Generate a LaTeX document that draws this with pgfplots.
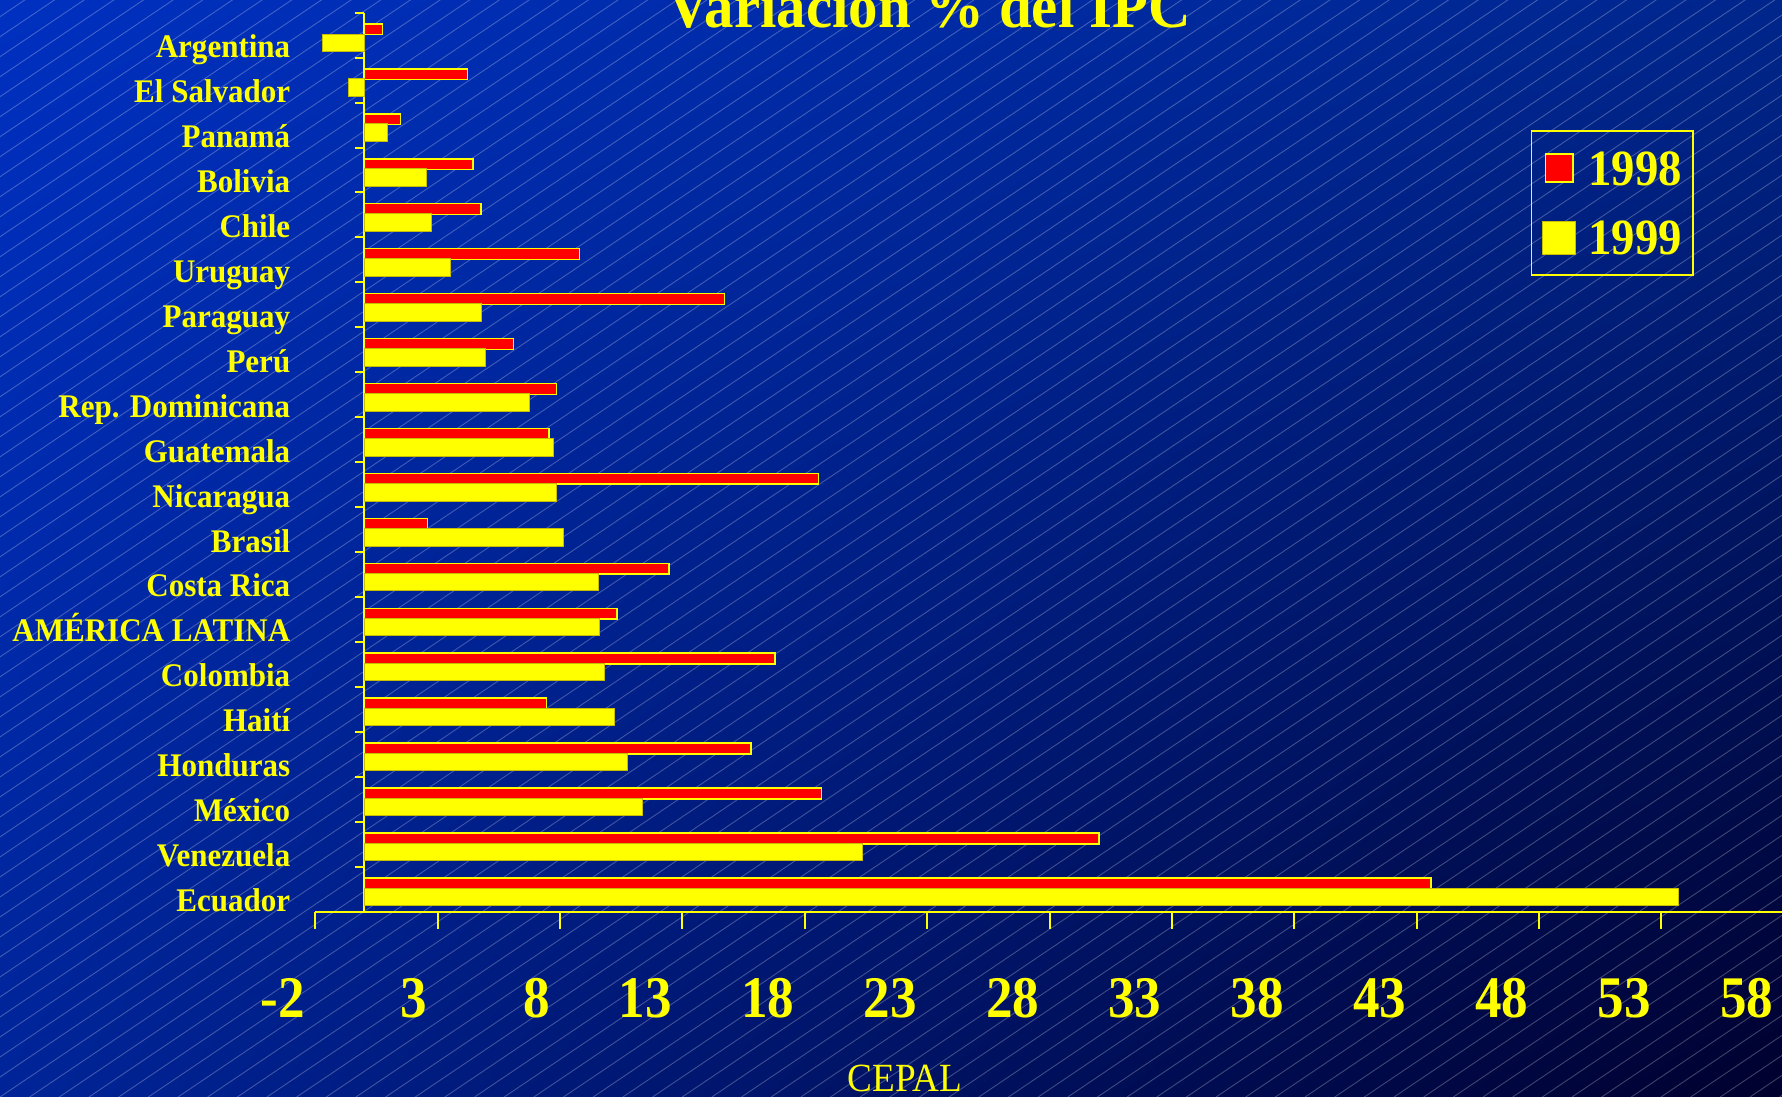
\documentclass[border=0pt]{standalone}
\usepackage{pgfplots}
\pgfplotsset{compat=1.18}
\usetikzlibrary{shadings}
\usepackage{fontspec}
\setmainfont{Liberation Serif}
\definecolor{yel}{RGB}{255,255,0}
\definecolor{rd}{RGB}{255,0,0}
\definecolor{bgTL}{RGB}{0,48,192}
\definecolor{bgTR}{RGB}{0,38,140}
\definecolor{bgBL}{RGB}{0,36,152}
\definecolor{bgBR}{RGB}{0,0,46}
\definecolor{ybord}{RGB}{200,190,0}
\newcommand{\yl}[1]{\scalebox{0.94}[1]{#1}}
\begin{document}
\begin{tikzpicture}
\shade[upper left=bgTL, upper right=bgTR, lower left=bgBL, lower right=bgBR] (0,0) rectangle (891pt,548.5pt);
\begin{scope}
\clip (0,0) rectangle (891pt,548.5pt);
\foreach \i in {-56,...,61} \draw[white, opacity=0.25, line width=0.45pt] (\i*14.83pt,0) -- ++(34:1000pt);
\end{scope}
\begin{axis}[
  at={(157.7pt,92.65pt)}, anchor=south west,
  scale only axis, width=734.1pt, height=449.5pt,
  xmin=-2, xmax=58, ymin=-0.5, ymax=19.5,
  axis x line*=bottom, axis y line*=middle,
  axis line style={yel, line width=1pt},
  xtick={-2,3,...,58},
  ytick={0,...,19},
  minor ytick={-0.5,0.5,...,19.5},
  yticklabels={\yl{Ecuador},\yl{Venezuela},\yl{México},\yl{Honduras},\yl{Haití},\yl{Colombia},\yl{AMÉRICA LATINA},\yl{Costa Rica},\yl{Brasil},\yl{Nicaragua},\yl{Guatemala},\yl{Rep. Dominicana},\yl{Perú},\yl{Paraguay},\yl{Uruguay},\yl{Chile},\yl{Bolivia},\yl{Panamá},\yl{El Salvador},\yl{Argentina}},
  tick align=center,
  major tick length=8.5pt, minor tick length=4.65pt,
  major x tick style={yel, line width=1pt, yshift=-4.25pt},
  major y tick style={draw=none},
  minor y tick style={yel, line width=1pt, xshift=-2.325pt},
  xticklabel={\scalebox{0.9}[1]{\pgfmathprintnumber[assume math mode=true]{\tick}}},
  xticklabel style={anchor=base east, inner sep=0pt, text=yel, font=\fontsize{29.5}{29.5}\selectfont\bfseries, xshift=-5pt, yshift=-48.8pt},
  yticklabel style={anchor=base east, inner sep=0pt, text=yel, font=\fontsize{16.5}{16.5}\selectfont\bfseries, xshift=-32.6pt, yshift=-11.2pt},
  title={\scalebox{0.95}[1]{Variación \% del IPC}},
  title style={at={(axis description cs:0.418,0.9789)}, anchor=base, inner sep=0pt, yshift=-4pt, text=yel, font=\fontsize{31}{31}\selectfont\bfseries},
  xlabel={\scalebox{0.93}[1]{CEPAL}},
  xlabel style={at={(axis description cs:0.4016,-0.2000)}, anchor=base, inner sep=0pt, text depth=0pt, text=yel, font=\fontsize{20}{20}\selectfont},
  legend style={at={(axis description cs:0.8277,0.8695)}, anchor=north west, draw=yel, line width=0.75pt, fill=none, text=yel, font=\fontsize{25.4}{25.4}\selectfont\bfseries, inner xsep=5.5pt, inner ysep=10pt, row sep=17.6pt, column sep=6pt, nodes={inner sep=0pt, text height=17.2pt, text depth=0pt}},
  legend cell align=left,
]
\addplot[xbar, bar width=0.24, bar shift=0.13, fill=rd, draw=yel, line width=0.75pt,
  legend image code/.code={\draw[fill=rd, draw=yel, line width=0.75pt] (1.5pt,-6.9pt) rectangle (15.25pt,6.9pt);}]
 coordinates {(43.58,0) (30.02,1) (18.69,2) (15.80,3) (7.45,4) (16.78,5) (10.32,6) (12.46,7) (2.59,8) (18.55,9) (7.54,10) (7.85,11) (6.09,12) (14.71,13) (8.79,14) (4.77,15) (4.44,16) (1.47,17) (4.22,18) (0.75,19)};
\addlegendentry{\scalebox{0.92}[1]{1998}}
\addplot[xbar, bar width=0.39, bar shift=-0.17, fill=yel, draw=ybord, line width=0.5pt,
  legend image code/.code={\draw[fill=yel, draw=ybord, line width=0.5pt] (0.25pt,-8.25pt) rectangle (16.75pt,8.25pt);}]
 coordinates {(53.7,0) (20.36,1) (11.35,2) (10.74,3) (10.23,4) (9.81,5) (9.63,6) (9.55,7) (8.13,8) (7.87,9) (7.74,10) (6.76,11) (4.97,12) (4.78,13) (3.53,14) (2.75,15) (2.55,16) (0.95,17) (-0.65,18) (-1.70,19)};
\addlegendentry{\scalebox{0.92}[1]{1999}}
\end{axis}
\pgfresetboundingbox
\path[use as bounding box] (0,0) rectangle (891pt,548.5pt);
\end{tikzpicture}
\end{document}
